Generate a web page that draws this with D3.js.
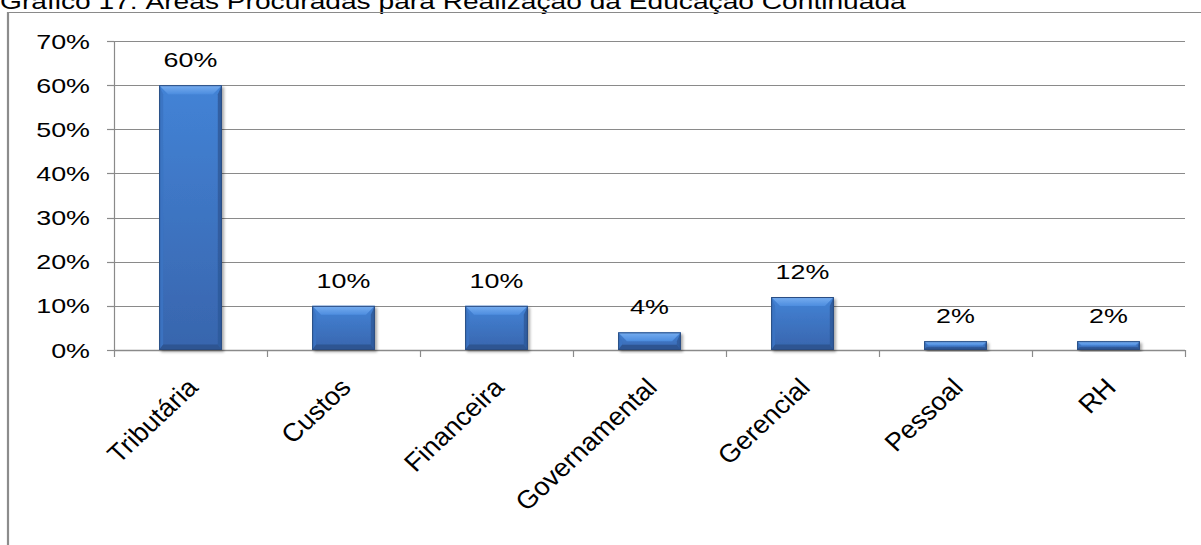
<!DOCTYPE html>
<html>
<head>
<meta charset="utf-8">
<script src="https://cdn.jsdelivr.net/npm/d3@7/dist/d3.min.js"></script>
<style>
  html, body { margin: 0; padding: 0; background: #fff; }
  svg { display: block; font-family: "Liberation Sans", Arial, sans-serif; }
</style>
</head>
<body>
<svg id="chart" width="1201" height="545"></svg>
<script>
// Áreas procuradas para realização da educação continuada
const categories = ["Tributária", "Custos", "Financeira", "Governamental", "Gerencial", "Pessoal", "RH"];
const values = [0.60, 0.10, 0.10, 0.04, 0.12, 0.02, 0.02];
const valueLabels = ["60%", "10%", "10%", "4%", "12%", "2%", "2%"];
const yTicks = [0, 0.1, 0.2, 0.3, 0.4, 0.5, 0.6, 0.7];
const titleText = "Gráfico 17: Áreas Procuradas para Realização da Educação Continuada";

const svg = d3.select("#chart");
const W = 1201, H = 545;
const plot = { left: 114, right: 1185, top: 41, bottom: 350 };
const stretch = 1.28;   // horizontal text is drawn wide
const fontSize = 21;

const x = d3.scaleBand().domain(categories).range([plot.left, plot.right]).paddingInner(0.59).paddingOuter(0.295);
const y = d3.scaleLinear().domain([0, 0.7]).range([plot.bottom, plot.top]);
const fmt = d3.format(".0%");

const grid = "#8a8a8a";

// gradients and shadow
const defs = svg.append("defs");
const face = defs.append("linearGradient").attr("id", "face").attr("x1", 0).attr("y1", 0).attr("x2", 0).attr("y2", 1);
face.append("stop").attr("offset", "0%").attr("stop-color", "#4383d6");
face.append("stop").attr("offset", "100%").attr("stop-color", "#3865ad");
const topG = defs.append("linearGradient").attr("id", "bevelTop").attr("x1", 0).attr("y1", 0).attr("x2", 0).attr("y2", 1);
topG.append("stop").attr("offset", "0%").attr("stop-color", "#78aef0");
topG.append("stop").attr("offset", "100%").attr("stop-color", "#4d8ddf");
const shadow = defs.append("filter").attr("id", "shadow").attr("x", "-20%").attr("y", "-20%").attr("width", "140%").attr("height", "140%");
shadow.append("feGaussianBlur").attr("in", "SourceAlpha").attr("stdDeviation", 1.6).attr("result", "b");
shadow.append("feOffset").attr("in", "b").attr("dx", 1.5).attr("dy", 1.5).attr("result", "o");
shadow.append("feComponentTransfer").attr("in", "o").attr("result", "s")
  .append("feFuncA").attr("type", "linear").attr("slope", 0.35);
const merge = shadow.append("feMerge");
merge.append("feMergeNode").attr("in", "s");
merge.append("feMergeNode").attr("in", "SourceGraphic");

// title (runs off the top edge)
svg.append("text")
  .attr("transform", `translate(0,9) scale(${stretch},1)`)
  .attr("font-size", 22)
  .attr("fill", "#000")
  .text(titleText);

// outer frame: top and left edges
svg.append("line").attr("x1", 7).attr("x2", W).attr("y1", 12.5).attr("y2", 12.5)
  .attr("stroke", grid).attr("stroke-width", 1.2);
svg.append("line").attr("x1", 8).attr("x2", 8).attr("y1", 12).attr("y2", H)
  .attr("stroke", "#8c8c8c").attr("stroke-width", 2.2);

// horizontal gridlines
svg.append("g").selectAll("line").data(yTicks.filter(d => d > 0)).join("line")
  .attr("x1", plot.left).attr("x2", plot.right)
  .attr("y1", d => Math.round(y(d)) + 0.5).attr("y2", d => Math.round(y(d)) + 0.5)
  .attr("stroke", grid).attr("stroke-width", 1.2);

// y axis: line, ticks, labels
const gy = svg.append("g");
gy.append("line").attr("x1", plot.left + 0.5).attr("x2", plot.left + 0.5)
  .attr("y1", plot.top).attr("y2", plot.bottom + 7).attr("stroke", grid).attr("stroke-width", 1.2);
gy.selectAll("line.tick").data(yTicks).join("line").attr("class", "tick")
  .attr("x1", plot.left - 7).attr("x2", plot.left)
  .attr("y1", d => Math.round(y(d)) + 0.5).attr("y2", d => Math.round(y(d)) + 0.5)
  .attr("stroke", grid).attr("stroke-width", 1.2);
gy.selectAll("text").data(yTicks).join("text")
  .attr("transform", d => `translate(90,${y(d) + 7.5}) scale(${stretch},1)`)
  .attr("text-anchor", "end")
  .attr("font-size", fontSize)
  .attr("fill", "#000")
  .text(fmt);

// x axis line and category boundary ticks
const boundaries = d3.range(categories.length + 1).map(i => plot.left + i * (plot.right - plot.left) / categories.length);
svg.append("line").attr("x1", plot.left).attr("x2", plot.right)
  .attr("y1", plot.bottom + 0.5).attr("y2", plot.bottom + 0.5)
  .attr("stroke", grid).attr("stroke-width", 1.5);
svg.append("g").selectAll("line").data(boundaries.slice(1)).join("line")
  .attr("x1", d => Math.round(d) + 0.5).attr("x2", d => Math.round(d) + 0.5)
  .attr("y1", plot.bottom).attr("y2", plot.bottom + 7)
  .attr("stroke", grid).attr("stroke-width", 1.2);

// bars with bevel shading
const bars = svg.append("g").selectAll("g").data(categories.map((c, i) => ({ c, v: values[i] }))).join("g")
  .attr("filter", "url(#shadow)");
bars.each(function (d) {
  const g = d3.select(this);
  const x0 = x(d.c), w = x.bandwidth();
  const y0 = y(d.v), h = y(0) - y0;
  const b = Math.min(9, h / 2, w / 2);
  g.append("rect").attr("x", x0).attr("y", y0).attr("width", w).attr("height", h).attr("fill", "url(#face)");
  const poly = pts => g.append("polygon").attr("points", pts.map(p => p.join(",")).join(" "));
  poly([[x0, y0], [x0 + w, y0], [x0 + w - b, y0 + b], [x0 + b, y0 + b]]).attr("fill", "url(#bevelTop)");
  poly([[x0, y0], [x0 + b * 0.45, y0 + b], [x0 + b * 0.45, y0 + h - b * 0.6], [x0, y0 + h]]).attr("fill", "#3b73c2").attr("opacity", 0.9);
  poly([[x0 + w, y0], [x0 + w - b * 0.45, y0 + b], [x0 + w - b * 0.45, y0 + h - b * 0.6], [x0 + w, y0 + h]]).attr("fill", "#2f5b9c").attr("opacity", 0.9);
  poly([[x0, y0 + h], [x0 + b * 0.45, y0 + h - b * 0.6], [x0 + w - b * 0.45, y0 + h - b * 0.6], [x0 + w, y0 + h]]).attr("fill", "#2d5592");
  g.append("rect").attr("x", x0 + 0.5).attr("y", y0 + 0.5).attr("width", w - 1).attr("height", h - 1)
    .attr("fill", "none").attr("stroke", "#2a4c80").attr("stroke-width", 1);
});

// value labels above bars
svg.append("g").selectAll("text").data(categories).join("text")
  .attr("transform", (c, i) => `translate(${x(c) + x.bandwidth() / 2},${y(values[i]) - 18}) scale(${stretch},1)`)
  .attr("text-anchor", "middle")
  .attr("font-size", fontSize)
  .attr("fill", "#000")
  .text((c, i) => valueLabels[i]);

// rotated category labels
svg.append("g").selectAll("text").data(categories).join("text")
  .attr("transform", c => `translate(${x(c) + x.bandwidth() / 2 + 9},389) scale(1.07,1) rotate(-45)`)
  .attr("text-anchor", "end")
  .attr("font-size", 25.5)
  .attr("fill", "#000")
  .text(c => c);
</script>
</body>
</html>
